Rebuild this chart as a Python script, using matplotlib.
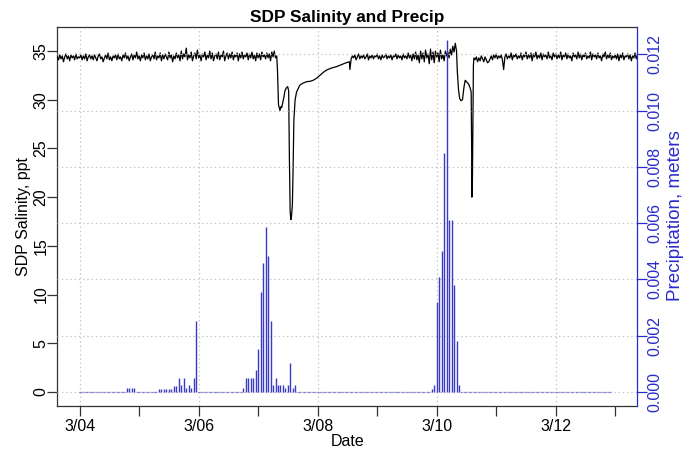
import numpy as np
import matplotlib
matplotlib.use("Agg")
import matplotlib.pyplot as plt

plt.rcParams['font.family'] = ['Liberation Sans', 'DejaVu Sans']

# ---------------- data ----------------
# time in hours since 3/04 00:00
day_labels = ['3/04', '3/05', '3/06', '3/07', '3/08', '3/09', '3/10', '3/11', '3/12', '3/13']

# salinity, segment A: noisy baseline, every 30 min from h-9 to h79
sal_a = [
    34.4, 34.1, 34.6, 34.2, 34.5, 33.9, 34.4, 34.7, 34.2, 34.5,
    34.0, 34.6, 34.3, 34.5, 34.1, 34.7, 34.2, 34.4,
    34.3, 34.6, 34.1, 34.5, 34.2, 34.7, 34.0, 34.4, 34.6, 34.2,
    34.5, 34.1, 34.6, 34.3, 34.0, 34.5, 34.7, 34.2, 34.4, 33.9,
    34.3, 34.6, 34.2, 34.8, 34.1, 34.4, 34.0, 34.5, 34.3, 34.6,
    34.1, 34.7, 34.2, 34.4, 34.0, 34.6, 34.3, 34.8, 34.2, 34.5,
    34.0, 34.4, 34.7, 34.1, 34.6, 34.3, 34.9, 34.2, 34.5, 34.0,
    34.6, 34.3, 34.8, 34.1, 34.5, 34.2, 34.7, 34.0, 34.4, 34.6,
    34.2, 34.9, 34.1, 34.5, 34.3, 34.8, 34.0, 34.6, 34.2, 34.7,
    34.4, 34.1, 34.9, 34.3, 34.6, 33.9, 34.5, 34.2, 34.8, 34.3,
    34.6, 34.0, 35.0, 34.2, 34.7, 34.4, 35.3, 34.1, 34.6, 34.3,
    34.9, 34.0, 34.5, 34.8, 34.2, 35.1, 34.3, 34.6, 34.0, 34.7,
    34.4, 34.9, 34.1, 34.6, 34.3, 35.0, 34.2, 34.8, 34.0, 34.5,
    34.7, 34.2, 34.9, 34.1, 34.6, 34.4, 35.0, 34.0, 34.5, 34.8,
    34.2, 34.7, 34.3, 34.9, 34.1, 34.6, 34.4, 34.8, 34.0, 34.7,
    34.3, 34.9, 34.2, 34.6, 34.4, 34.8, 34.1, 34.7, 34.3, 34.9,
    34.2, 34.6, 34.0, 34.8, 34.3, 34.7, 34.1, 34.9, 34.4, 34.6,
    34.2, 34.8, 34.3, 34.7, 34.0, 34.9, 34.4, 35.0, 34.3,
]
sal_a_start, sal_step = -9.0, 0.5

# segment B: first freshening event (irregular read-off points)
sal_b_hours = [79.5, 79.8, 80.2, 80.8, 81.2, 81.5, 82.0, 82.4, 82.8, 83.3, 83.9,
               84.3, 84.6, 84.9, 85.2, 85.5, 85.8, 86.1, 86.4, 86.9, 87.5, 88.8,
               90.0, 91.5, 93.0, 94.2, 95.5, 96.9, 98.2, 99.6, 101.5, 103.6,
               105.5, 107.5, 108.8, 109.0]
sal_b = [34.5, 33.0, 29.5, 28.9, 29.3, 29.2, 29.8, 30.3, 30.9, 31.2, 31.35,
         30.9, 24.0, 18.5, 17.7, 18.2, 19.2, 23.0, 27.9, 30.0, 30.8, 31.5,
         31.7, 31.85, 31.9, 32.0, 32.2, 32.5, 32.8, 33.05, 33.25, 33.4,
         33.6, 33.8, 33.9, 33.1]

# segment C: noisy baseline, every 30 min from h109.5 to h151.5
sal_c = [
    34.2, 34.5, 34.3, 34.6, 34.1, 34.4, 34.7, 34.2, 34.5, 34.3,
    34.6, 34.2, 34.4, 34.7, 34.1, 34.5, 34.3, 34.6, 34.2, 34.5,
    34.4, 34.7, 34.2, 34.5, 34.1, 34.6, 34.3, 34.4, 34.7, 34.2,
    34.5, 34.3, 34.6, 34.1, 34.5, 34.4, 34.7, 34.2, 34.6, 34.3,
    34.5, 34.1, 34.7, 34.3, 34.5, 34.2, 34.8, 34.3, 34.6, 34.0,
    34.7, 34.2, 34.9, 34.1, 34.6, 33.8, 35.0, 34.2, 34.8, 33.9,
    35.1, 34.3, 34.7, 33.7, 35.2, 34.1, 34.9, 33.8, 35.0, 34.4,
    34.8, 33.9, 35.1, 34.2, 34.6, 34.0, 35.0, 34.5, 34.9, 34.3,
    35.2, 34.6, 35.5, 34.9, 35.8,
]
sal_c_start = 109.5

# segment D: second freshening event
sal_d_hours = [152.0, 152.3, 152.8, 153.3, 153.8, 154.4, 155.0, 155.5, 156.2,
               156.9, 157.5, 157.9, 158.1, 158.2, 158.4, 158.6, 158.8, 159.0]
sal_d = [35.0, 33.0, 31.0, 30.1, 29.9, 30.0, 31.3, 32.0, 31.8,
         31.6, 31.2, 30.8, 25.0, 20.0, 21.5, 28.0, 33.5, 34.3]

# segment E: noisy baseline, every 30 min from h159.5 to h225
sal_e = [
    34.1, 34.4, 33.9, 34.3, 34.0, 34.5, 34.2, 33.9, 34.4, 34.1,
    33.8, 33.9, 34.2, 34.5, 34.1, 34.6, 34.3, 34.7, 34.2, 34.5,
    34.3, 34.6, 34.1, 33.1, 34.4, 34.7, 34.2, 34.5, 34.3, 34.8,
    34.1, 34.6, 34.4, 34.7, 34.2, 34.5, 34.3, 34.8, 34.1, 34.6,
    34.4, 34.9, 34.2, 34.6, 34.3, 34.8, 34.0, 34.7, 34.4, 34.9,
    34.2, 34.6, 34.3, 34.8, 34.1, 34.7, 34.4, 34.6, 34.2, 34.9,
    34.3, 34.5, 34.1, 34.8, 34.4, 34.7, 34.2, 34.6, 34.3, 34.9,
    34.1, 34.6, 34.4, 34.8, 34.2, 34.7, 34.3, 34.5, 34.0, 34.8,
    34.4, 34.6, 34.2, 34.9, 34.3, 34.7, 34.1, 34.6, 34.4, 34.8,
    34.2, 34.5, 34.3, 34.9, 34.1, 34.7, 34.4, 34.6, 34.2, 34.8,
    34.3, 34.5, 34.0, 34.7, 34.4, 34.9, 34.2, 34.6, 34.3, 34.8,
    34.1, 34.5, 34.3, 34.6, 34.2, 34.7, 34.0, 34.6, 34.3, 34.8,
    34.1, 34.5, 34.4, 34.7, 34.2, 34.6, 34.0, 34.5, 34.3, 34.8,
    34.2, 34.6,
]
sal_e_start = 159.5

# hourly precipitation (m): hours with rain and their totals; other hours are 0
precip_last_hour = 214
precip_rain_hours = [19, 20, 21, 22,
                     32, 33, 34, 35, 36, 37, 38, 39, 40, 41, 42, 43, 44, 45, 46, 47,
                     66, 67, 68, 69, 70, 71, 72, 73, 74, 75, 76, 77, 78, 79, 80, 81,
                     82, 83, 84, 85, 86, 87,
                     142, 143, 144, 145, 146, 147, 148, 149, 150, 151, 152, 153]
precip_rain_values = [0.00013, 0.00013, 0.00013, 0.00013,
                      0.00012, 0.00012, 0.00012, 0.00012, 0.00012, 0.00012, 0.00022,
                      0.00022, 0.0005, 0.00025, 0.0005, 0.00013, 0.00025, 0.00013,
                      0.0005, 0.00253,
                      0.00013, 0.0005, 0.0005, 0.0005, 0.0005, 0.00077, 0.00153,
                      0.00356, 0.0046, 0.00585, 0.00483, 0.00253, 0.00025, 0.0005,
                      0.00025, 0.00025, 0.00025, 0.00013, 0.00025, 0.00102, 0.00013,
                      0.00025,
                      0.0001, 0.00026, 0.0032, 0.0041, 0.005, 0.0085, 0.0125, 0.0061,
                      0.0061, 0.0038, 0.0018, 0.00026]

# ---------------- assemble series ----------------
t_a = sal_a_start + sal_step * np.arange(len(sal_a))
t_c = sal_c_start + sal_step * np.arange(len(sal_c))
t_e = sal_e_start + sal_step * np.arange(len(sal_e))
sal_t = np.concatenate([t_a, sal_b_hours, t_c, sal_d_hours, t_e])
sal_v = np.concatenate([sal_a, sal_b, sal_c, sal_d, sal_e])

p_hours = np.arange(precip_last_hour + 1)
p_vals = np.zeros(len(p_hours))
p_vals[precip_rain_hours] = precip_rain_values

# ---------------- plot ----------------
W, H = 684, 453
fig = plt.figure(figsize=(W / 100, H / 100), dpi=100)
ax = fig.add_axes([57.3 / W, 1 - 405.7 / H, (637.3 - 57.3) / W, (405.7 - 27) / H])
ax2 = ax.twinx()

blue = '#2b2bcc'
barblue = '#3a3ac4'
gridc = '#c8c8c8'

# vertical grid
for d in range(0, len(day_labels), 2):
    ax.axvline(d * 24, color=gridc, lw=0.9, ls=(0, (1.2, 2.2)), zorder=0)

ax.plot(sal_t, sal_v, color='black', lw=0.9, zorder=3)

ax.set_xlim(-9.0, 224.9)
ax.set_ylim(-1.41, 37.47)
ax2.set_ylim(-0.000487, 0.01297)

# horizontal grid at precip ticks
ax2.set_yticks([0.0, 0.002, 0.004, 0.006, 0.008, 0.010, 0.012])
for v in ax2.get_yticks():
    ax2.axhline(v, color=gridc, lw=0.9, ls=(0, (1.2, 2.2)), zorder=0)

ax2.vlines(p_hours[p_vals > 0], 0, p_vals[p_vals > 0], color=barblue, lw=1.0, zorder=4)
ax2.plot(p_hours[p_vals == 0], p_vals[p_vals == 0], ls='none', marker='_',
         ms=1.0, mew=0.9, color=barblue, alpha=0.55, zorder=4)

# x axis
ax.set_xticks([d * 24 for d in range(len(day_labels))])
ax.set_xticklabels([lab if i % 2 == 0 else '' for i, lab in enumerate(day_labels)],
                   fontsize=11.5)
ax.tick_params(axis='x', length=7, width=0.9, color='#333333', pad=2.5)

# left y axis
ax.set_yticks([0, 5, 10, 15, 20, 25, 30, 35])
ax.set_yticklabels(['0', '5', '10', '15', '20', '25', '30', '35'],
                   fontsize=11.5, rotation=90, va='center')
ax.tick_params(axis='y', length=7, width=0.9, color='#333333', pad=-0.5)

# right y axis
ax2.set_yticklabels(['0.000', '0.002', '0.004', '0.006', '0.008', '0.010', '0.012'],
                    fontsize=11.5, rotation=90, va='center', color=blue)
ax2.tick_params(axis='y', length=7, width=0.9, color=blue, pad=0.5)

for s in ['left', 'bottom', 'top']:
    ax.spines[s].set_color('#333333')
    ax.spines[s].set_linewidth(0.9)
ax.spines['right'].set_visible(False)
for s in ['left', 'bottom', 'top']:
    ax2.spines[s].set_visible(False)
ax2.spines['right'].set_color(blue)
ax2.spines['right'].set_linewidth(0.9)

fig.text(347.3 / W, 1 - 22 / H, 'SDP Salinity and Precip', ha='center', va='baseline',
         fontsize=12.4, fontweight='bold')
fig.text(347.3 / W, 1 - 446 / H, 'Date', ha='center', va='baseline', fontsize=11.5)
fig.text(28.3 / W, 1 - 216 / H, 'SDP Salinity, ppt', ha='center', va='baseline',
         rotation=90, rotation_mode='anchor', fontsize=11.5)
fig.text(679.5 / W, 1 - 216 / H, 'Precipitation, meters', ha='center', va='baseline',
         rotation=90, rotation_mode='anchor', fontsize=13.6, color=blue)

fig.savefig('out.png', dpi=100)
